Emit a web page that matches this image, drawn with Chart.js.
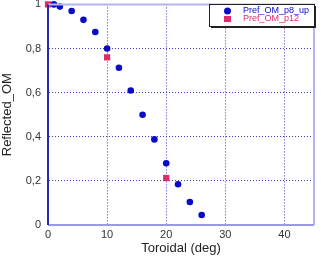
<!DOCTYPE html>
<html>
<head>
<meta charset="utf-8">
<script src="https://cdn.jsdelivr.net/npm/chart.js@4.4.1/dist/chart.umd.min.js"></script>
<style>
  html, body { margin: 0; padding: 0; background: #fff; }
  #wrap { width: 322px; height: 256px; position: relative; }
</style>
</head>
<body>
<div id="wrap"><canvas id="c" width="322" height="256"></canvas></div>
<script>
// serie bleue
const upX = [1, 2, 4, 6, 8, 10, 12, 14, 16, 18, 20, 22, 24, 26];
const upY = [1.0, 0.99, 0.97, 0.93, 0.875, 0.80, 0.713, 0.61, 0.50, 0.388, 0.28, 0.185, 0.104, 0.045];
// serie rose
const p12X = [0, 10, 20];
const p12Y = [1.0, 0.76, 0.213];
const xTicks = [0, 10, 20, 30, 40];
const yTicks = [0, 0.2, 0.4, 0.6, 0.8, 1];

const BLUE = '#0a0ac8';
const PINK = '#e02a6c';
const FONT = '"Liberation Sans", Arial, sans-serif';

const toPts = (xs, ys) => xs.map((x, i) => ({ x: x, y: ys[i] }));

// bordure du cadre + legende dans le graphe
const framePlugin = {
    id: 'frame',
    afterDraw(chart) {
        const { ctx, chartArea: a } = chart;
        ctx.save();
        ctx.lineWidth = 2;
        ctx.strokeStyle = '#b4b4ee';
        ctx.beginPath();
        ctx.moveTo(a.left, a.top); ctx.lineTo(a.right, a.top); ctx.lineTo(a.right, a.bottom);
        ctx.stroke();
        ctx.strokeStyle = '#9a9ae4';
        ctx.beginPath();
        ctx.moveTo(a.left, a.bottom); ctx.lineTo(a.right, a.bottom);
        ctx.stroke();
        ctx.strokeStyle = '#2a2ab4';
        ctx.beginPath();
        ctx.moveTo(a.left, a.top); ctx.lineTo(a.left, a.bottom);
        ctx.stroke();

        // legende
        const bx = 209, by = 4, bw = 105, bh = 22;
        ctx.fillStyle = '#222';
        ctx.fillRect(bx + 2, by + 2, bw, bh);
        ctx.fillStyle = '#fff';
        ctx.fillRect(bx, by, bw, bh);
        ctx.lineWidth = 1;
        ctx.strokeStyle = '#222';
        ctx.strokeRect(bx + 0.5, by + 0.5, bw, bh);
        ctx.font = '9px ' + FONT;
        ctx.textBaseline = 'middle';
        chart.data.datasets.forEach((ds, i) => {
            const yy = by + 7 + i * 8;
            ctx.fillStyle = ds.backgroundColor;
            if (ds.pointStyle === 'rect') {
                ctx.fillRect(bx + 15, yy - 3, 7, 6);
            } else {
                ctx.beginPath();
                ctx.arc(bx + 18.5, yy, 3.5, 0, Math.PI * 2);
                ctx.fill();
            }
            ctx.fillText(ds.label, bx + 34, yy);
        });
        ctx.restore();
    }
};

new Chart(document.getElementById('c'), {
    type: 'scatter',
    data: {
        datasets: [
            {
                label: 'Pref_OM_p8_up',
                data: toPts(upX, upY),
                backgroundColor: BLUE,
                borderColor: BLUE,
                pointStyle: 'circle',
                pointRadius: 3.3,
                borderWidth: 0
            },
            {
                label: 'Pref_OM_p12',
                data: toPts(p12X, p12Y),
                backgroundColor: PINK,
                borderColor: PINK,
                pointStyle: 'rect',
                pointRadius: 4.4,
                borderWidth: 0
            }
        ]
    },
    options: {
        responsive: false,
        animation: false,
        clip: false,
        layout: { padding: { top: 3, right: 8, left: 0, bottom: 0 } },
        plugins: {
            legend: { display: false },
            tooltip: { enabled: false }
        },
        scales: {
            x: {
                type: 'linear',
                min: 0, max: 45,
                afterBuildTicks: s => { s.ticks = xTicks.map(v => ({ value: v })); },
                afterFit: s => { s.height = 31; },
                grid: {
                    color: ctx => ctx.tick && ctx.tick.value === 0 ? 'rgba(0,0,0,0)' : '#3c3cc4',
                    lineWidth: 1,
                    drawTicks: false,
                    tickLength: 0
                },
                border: { display: true, color: 'rgba(0,0,0,0)', dash: [1, 2] },
                ticks: {
                    padding: 3,
                    color: '#333',
                    font: { family: FONT, size: 11 }
                },
                title: {
                    display: true,
                    text: 'Toroidal (deg)',
                    color: '#222',
                    padding: { top: 0, bottom: 0 },
                    font: { family: FONT, size: 13 }
                }
            },
            y: {
                type: 'linear',
                min: 0, max: 1,
                afterBuildTicks: s => { s.ticks = yTicks.map(v => ({ value: v })); },
                afterFit: s => { s.width = 48; s.paddingTop = 0; s.paddingBottom = 0; },
                grid: {
                    color: ctx => ctx.tick && (ctx.tick.value === 0 || ctx.tick.value === 1) ? 'rgba(0,0,0,0)' : '#3c3cc4',
                    lineWidth: 1,
                    drawTicks: false,
                    tickLength: 0
                },
                border: { display: true, color: 'rgba(0,0,0,0)', dash: [1, 2] },
                ticks: {
                    padding: 7,
                    color: '#333',
                    font: { family: FONT, size: 11 },
                    callback: v => String(v).replace('.', ',')
                },
                title: {
                    display: true,
                    text: 'Reflected_OM',
                    color: '#222',
                    padding: { top: 0, bottom: 0 },
                    font: { family: FONT, size: 13 }
                }
            }
        }
    },
    plugins: [framePlugin]
});
</script>
</body>
</html>
